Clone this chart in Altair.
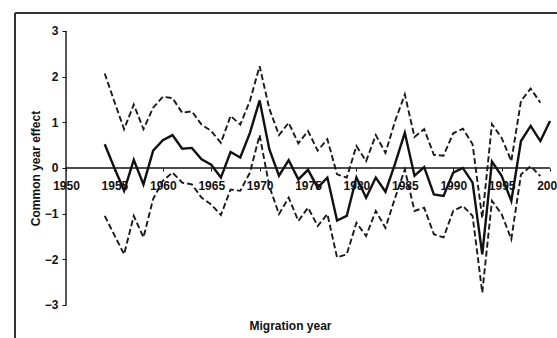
import altair as alt
import pandas as pd

# Estimated common year effect by migration year, with its confidence band
years = list(range(1954, 2001))
effect = [0.52, 0.00, -0.50, 0.18, -0.36, 0.38, 0.61, 0.72, 0.42, 0.44,
          0.19, 0.07, -0.21, 0.35, 0.23, 0.77, 1.48, 0.41, -0.17, 0.17,
          -0.25, -0.04, -0.43, -0.21, -1.15, -1.05, -0.21, -0.65, -0.21, -0.52,
          0.10, 0.77, -0.17, 0.02, -0.58, -0.61, -0.10, 0.00, -0.32, -1.89,
          0.14, -0.17, -0.72, 0.59, 0.92, 0.59, 1.03]

ci_years = list(range(1954, 2000))
upper = [2.07, 1.45, 0.85, 1.39, 0.85, 1.32, 1.56, 1.53, 1.21, 1.24,
         0.95, 0.81, 0.55, 1.14, 0.95, 1.47, 2.23, 1.30, 0.72, 0.99,
         0.54, 0.81, 0.38, 0.63, -0.14, -0.21, 0.48, 0.15, 0.72, 0.33,
         1.03, 1.61, 0.68, 0.85, 0.29, 0.27, 0.76, 0.86, 0.52, -1.10,
         0.96, 0.66, 0.15, 1.47, 1.74, 1.43]
lower = [-1.05, -1.47, -1.89, -1.05, -1.52, -0.68, -0.28, -0.10, -0.32, -0.36,
         -0.65, -0.80, -1.03, -0.47, -0.50, -0.10, 0.72, -0.40, -1.01, -0.65,
         -1.16, -0.87, -1.27, -1.01, -1.96, -1.89, -1.20, -1.49, -0.94, -1.31,
         -0.65, -0.03, -0.94, -0.87, -1.45, -1.52, -0.94, -0.83, -1.05, -2.73,
         -0.72, -1.01, -1.56, -0.14, 0.04, -0.18]

x_ticks = [1950, 1955, 1960, 1965, 1970, 1975, 1980, 1985, 1990, 1995, 2000]
y_ticks = [-3, -2, -1, 0, 1, 2, 3]

# The view spans the whole framed area; axes sit inside it
X_DOMAIN = [1944.73, 2000.72]
Y_DOMAIN = [-3.723, 3.394]

FONT = "Liberation Sans"
INK = "#111111"

effect_df = pd.DataFrame({"year": years, "effect": effect})
ci_df = pd.DataFrame({"year": ci_years, "upper": upper, "lower": lower})
yaxis_df = pd.DataFrame({"year": [x_ticks[0]], "lo": [y_ticks[0]], "hi": [y_ticks[-1]]})
zero_df = pd.DataFrame({"year": [x_ticks[0]], "year2": [x_ticks[-1]], "v": [0]})
frame_left_df = pd.DataFrame({"year": [X_DOMAIN[0]], "lo": [Y_DOMAIN[0]], "hi": [Y_DOMAIN[1]]})
frame_top_df = pd.DataFrame({"year": [X_DOMAIN[0]], "year2": [X_DOMAIN[1]], "v": [Y_DOMAIN[1]]})

x_scale = alt.Scale(domain=X_DOMAIN, nice=False, zero=False)
y_scale = alt.Scale(domain=Y_DOMAIN, nice=False, zero=False)

x_axis = alt.Axis(
    values=x_ticks, format="d", offset=-170, domain=False, grid=False,
    tickSize=3, tickColor=INK, tickWidth=1,
    labelFont=FONT, labelFontSize=12, labelFontWeight="bold", labelColor=INK,
    labelPadding=9, labelFlush=False, labelOverlap=False,
    title="Migration year", titleFont=FONT, titleFontSize=12,
    titleFontWeight="bold", titleColor=INK, titleX=275, titleY=161,
    titleAlign="center", titleBaseline="alphabetic",
)
y_axis = alt.Axis(
    values=y_ticks, format="d", offset=-51, domain=False, grid=False,
    tickSize=4, tickColor=INK, tickWidth=1,
    labelFont=FONT, labelFontSize=12, labelFontWeight="bold", labelColor=INK,
    labelPadding=4, labelFlush=False, labelOverlap=False,
    title="Common year effect", titleFont=FONT, titleFontSize=12,
    titleFontWeight="bold", titleColor=INK, titleX=-31, titleY=155,
    titleAngle=270, titleAlign="center", titleBaseline="middle",
)


def xe(field):
    return alt.X(field, type="quantitative", scale=x_scale, axis=x_axis)


def ye(field):
    return alt.Y(field, type="quantitative", scale=y_scale, axis=y_axis)


frame_left = alt.Chart(frame_left_df).mark_rule(color="#333333", strokeWidth=2).encode(
    x=xe("year"), y=ye("lo"), y2="hi")
frame_top = alt.Chart(frame_top_df).mark_rule(color="#333333", strokeWidth=2).encode(
    x=xe("year"), x2="year2", y=ye("v"))

yaxis_line = alt.Chart(yaxis_df).mark_rule(color=INK, strokeWidth=1.4).encode(
    x=xe("year"), y=ye("lo"), y2="hi")
zero_line = alt.Chart(zero_df).mark_rule(color=INK, strokeWidth=1.4).encode(
    x=xe("year"), x2="year2", y=ye("v"))

upper_line = alt.Chart(ci_df).mark_line(
    color="#1a1a1a", strokeWidth=1.9, strokeDash=[6, 3]).encode(
    x=xe("year"), y=ye("upper"))
lower_line = alt.Chart(ci_df).mark_line(
    color="#1a1a1a", strokeWidth=1.9, strokeDash=[6, 3]).encode(
    x=xe("year"), y=ye("lower"))
effect_line = alt.Chart(effect_df).mark_line(
    color=INK, strokeWidth=2.4).encode(
    x=xe("year"), y=ye("effect"))

chart = alt.layer(
    frame_left, frame_top, yaxis_line, zero_line, upper_line, lower_line, effect_line
).properties(
    width=542, height=325,
    autosize=alt.AutoSizeParams(type="none"),
    padding={"left": 15, "top": 13, "right": 0, "bottom": 0},
    background="white",
).configure_view(stroke=None)

chart.save("out.html", embed_options={"renderer": "svg", "actions": False})
